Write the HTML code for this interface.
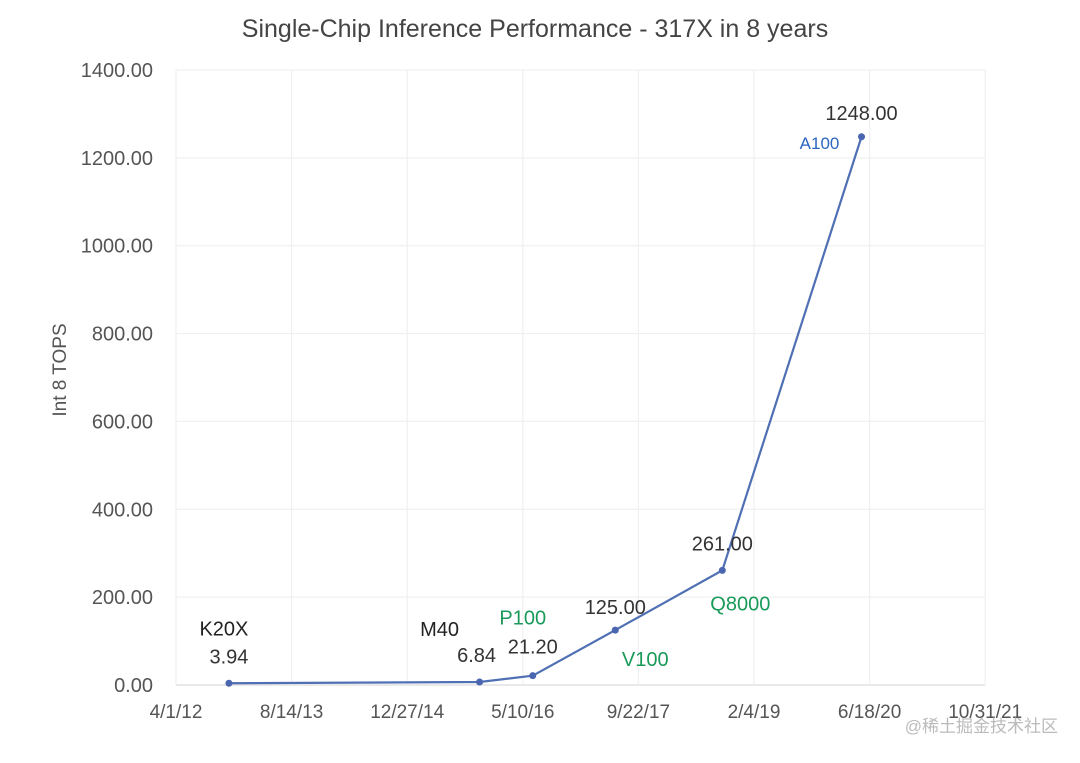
<!DOCTYPE html>
<html><head><meta charset="utf-8"><style>
body{margin:0;background:#fff;}
svg text{font-family:"Liberation Sans",sans-serif;}
</style></head><body>
<svg id="chart" width="1080" height="758" xmlns="http://www.w3.org/2000/svg">
<text x="535" y="37" text-anchor="middle" font-size="25" fill="#444">Single-Chip Inference Performance - 317X in 8 years</text>
<text transform="translate(66,370) rotate(-90)" text-anchor="middle" font-size="19" fill="#555">Int 8 TOPS</text>
<g id="grid"></g><g id="axes"></g><g id="series"></g><g id="labels"></g>
<text x="1058" y="732" text-anchor="end" font-size="17" fill="#bbb" font-family="'Liberation Sans','Noto Sans CJK SC',sans-serif">@稀土掘金技术社区</text>
</svg>
<script>
const chips=["K20X","M40","P100","V100","Q8000","A100"];
const dates=["2012-11-16","2015-11-05","2016-06-22","2017-06-14","2018-09-20","2020-05-14"];
const values=[3.94,6.84,21.20,125.00,261.00,1248.00];
const valueLabels=["3.94","6.84","21.20","125.00","261.00","1248.00"];
const yTicks=[0,200,400,600,800,1000,1200,1400];
const xTickDates=["2012-04-01","2013-08-14","2014-12-27","2016-05-10","2017-09-22","2019-02-04","2020-06-18","2021-10-31"];
const xTickLabels=["4/1/12","8/14/13","12/27/14","5/10/16","9/22/17","2/4/19","6/18/20","10/31/21"];
const chipColors=["#222","#222","#1a9a5a","#1a9a5a","#1a9a5a","#2a66c0"];
// label offsets [nameDx,nameDy,valDx,valDy]
const offs=[[-5,-48,0,-20],[-40,-46,-3,-20],[-10,-51,0,-22],[30,36,0,-16],[18,40,0,-20],[-42,12,0,-17]];
const NS="http://www.w3.org/2000/svg";
const t0=Date.parse("2012-04-01"),day=86400000;
const X0=176,X1=985,Y0=685,Y1=70;
const xs=d=>X0+(Date.parse(d)-t0)/day*(115.6/500);
const ys=v=>Y0-(v/1400)*(Y0-Y1);
function mk(tag,attrs,parent){const e=document.createElementNS(NS,tag);for(const k in attrs)e.setAttribute(k,attrs[k]);parent.appendChild(e);return e;}
const grid=document.getElementById('grid'),axes=document.getElementById('axes'),ser=document.getElementById('series'),lab=document.getElementById('labels');
yTicks.forEach((v,i)=>{
 const l=mk('line',{x1:X0,x2:X1,y1:ys(v),y2:ys(v),stroke:i==0?'#dcdcdc':'#f0f0f0','stroke-width':1.2},grid);
 
 
 const t=mk('text',{x:153,y:ys(v)+7,'text-anchor':'end','font-size':20,fill:'#555'},axes);
 t.textContent=v.toFixed(2);
 
 
});
xTickDates.forEach((d,i)=>{
 const x=xs(d);
 const l=mk('line',{x1:x,x2:x,y1:Y1,y2:Y0,stroke:'#f0f0f0','stroke-width':1.2},grid);
 
 
 const t=mk('text',{x:x,y:Y0+33,'text-anchor':'middle','font-size':19,fill:'#555'},axes);
 t.textContent=xTickLabels[i];
 
 
});
const pts=dates.map((d,i)=>[xs(d),ys(values[i])]);
const p=mk('polyline',{points:pts.map(q=>q.join(',')).join(' '),fill:'none',stroke:'#5070b4','stroke-width':2.2},ser);


pts.forEach((q,i)=>{
 const c=mk('circle',{cx:q[0],cy:q[1],r:3.5,fill:'#4a66b0'},ser);
 
 
 const o=offs[i];
 const v=mk('text',{x:q[0]+o[2],y:q[1]+o[3],'text-anchor':'middle','font-size':20,fill:'#333'},lab);
 v.textContent=valueLabels[i];
 
 
 const n=mk('text',{x:q[0]+o[0],y:q[1]+o[1],'text-anchor':'middle','font-size':i==5?17:20,fill:chipColors[i]},lab);
 n.textContent=chips[i];
 
 
});
</script>
</body></html>
